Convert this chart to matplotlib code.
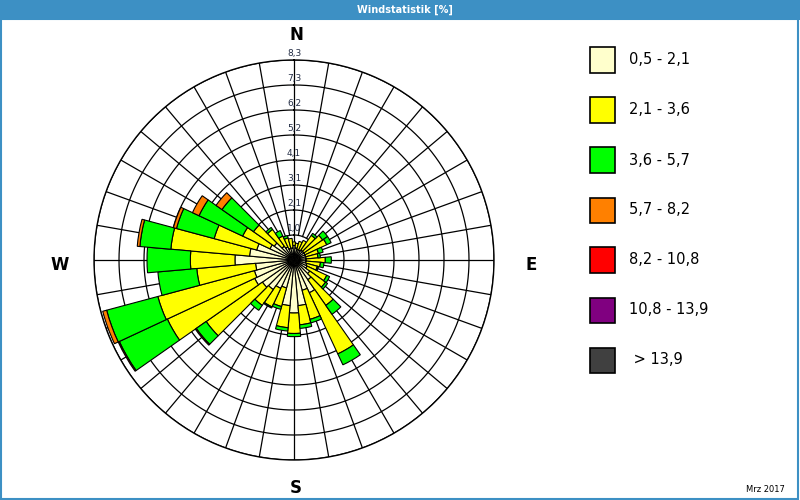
import numpy as np
import matplotlib.pyplot as plt
from matplotlib.patches import Rectangle

# Windrichtung (Grad) und Anteile je Geschwindigkeitsklasse [%]
richtung = np.arange(0, 360, 10)
k_05_21 = [0.6, 0.5, 0.45, 0.45, 0.5, 0.5, 0.5, 0.5, 0.5, 0.5, 0.5, 0.55,
           0.6, 0.8, 1.0, 1.5, 1.3, 1.9, 2.2, 1.9, 1.2, 1.3, 1.5, 1.6,
           1.8, 1.7, 1.6, 2.45, 1.85, 1.6, 1.1, 1.0, 0.7, 0.6, 0.5, 0.5]
k_21_36 = [0.15, 0.2, 0.35, 0.45, 0.75, 0.95, 1.0, 0.55, 0.5, 0.8, 0.6, 0.45,
           0.9, 0.8, 1.3, 2.8, 1.25, 0.8, 0.85, 0.92, 0.8, 0.85, 0.8, 2.85,
           4.0, 4.15, 2.45, 1.85, 3.28, 1.83, 1.25, 1.05, 0.85, 0.5, 0.45, 0.4]
k_36_57 = [0, 0, 0, 0, 0.1, 0.25, 0.2, 0.2, 0.1, 0.25, 0.15, 0.05,
           0.13, 0.1, 0.45, 0.5, 0.15, 0.15, 0.13, 0.14, 0.12, 0.05, 0.25, 0.5,
           2.2, 2.2, 1.62, 1.8, 1.29, 1.62, 2.0, 1.6, 0.1, 0.25, 0.1, 0]
k_57_82 = [0, 0, 0, 0, 0, 0, 0, 0, 0, 0, 0, 0,
           0, 0, 0, 0, 0, 0, 0, 0, 0, 0, 0, 0.05,
           0.05, 0.17, 0, 0, 0.11, 0.13, 0.3, 0.3, 0, 0, 0, 0]
k_82_108 = [0] * 36
k_108_139 = [0] * 36
k_139 = [0] * 36

klassen = ['0,5 - 2,1', '2,1 - 3,6', '3,6 - 5,7', '5,7 - 8,2',
           '8,2 - 10,8', '10,8 - 13,9', ' > 13,9']
farben = ['#ffffcc', '#ffff00', '#00ff00', '#ff8000',
          '#ff0000', '#800080', '#404040']
werte = [k_05_21, k_21_36, k_36_57, k_57_82, k_82_108, k_108_139, k_139]

r_max = 8.3
ring_labels = ['1,0', '2,1', '3,1', '4,1', '5,2', '6,2', '7,3', '8,3']
ringe = [r_max * (i + 1) / 8 for i in range(8)]

fig = plt.figure(figsize=(8, 5), dpi=100)
fig.patch.set_facecolor('white')

# Titelleiste und Rahmen
blau = '#3d90c4'
fig.add_artist(Rectangle((0, 480 / 500), 1, 20 / 500, transform=fig.transFigure,
                         facecolor=blau, edgecolor='none'))
fig.add_artist(Rectangle((0.001, 0.002), 0.997, 0.96, transform=fig.transFigure,
                         facecolor='none', edgecolor=blau, lw=1.5))
fig.text(405 / 800, 490 / 500, 'Windstatistik [%]', color='white', fontsize=7,
         ha='center', va='center', fontweight='bold')

ax = fig.add_axes([94 / 800, 40 / 500, 400 / 800, 400 / 500], projection='polar')
ax.set_theta_zero_location('N')
ax.set_theta_direction(-1)
ax.set_ylim(0, r_max)
ax.grid(False)
ax.set_xticks([])
ax.set_yticks([])
ax.spines['polar'].set_linewidth(1.0)
ax.spines['polar'].set_color('black')

# Gitter
t = np.linspace(0, 2 * np.pi, 361)
for r in ringe:
    ax.plot(t, [r] * len(t), color='black', lw=0.9, zorder=1)
for a in range(0, 360, 10):
    r0 = 0 if a % 90 == 0 else ringe[0]
    ax.plot([np.radians(a)] * 2, [r0, r_max], color='black', lw=0.9, zorder=1)

# gestapelte Balken
breite = np.radians(10)
theta = np.radians(richtung)
unten = np.zeros(36)
for w, c in zip(werte, farben):
    w = np.array(w, dtype=float)
    m = w > 0
    if m.any():
        ax.bar(theta[m], w[m], width=breite, bottom=unten[m], color=c,
               edgecolor='black', linewidth=0.8, zorder=2)
    unten += w

for r, lab in zip(ringe, ring_labels):
    ax.annotate(lab, xy=(0, r), xytext=(0, 1.5), textcoords='offset points',
                ha='center', va='bottom', fontsize=6.5, color='#222c44', zorder=3)

# Himmelsrichtungen
fig.text(296 / 800, 1 - 35 / 500, 'N', fontsize=12, fontweight='bold', ha='center', va='center')
fig.text(296 / 800, 1 - 488 / 500, 'S', fontsize=12, fontweight='bold', ha='center', va='center')
fig.text(60 / 800, 1 - 265 / 500, 'W', fontsize=12, fontweight='bold', ha='center', va='center')
fig.text(531 / 800, 1 - 265 / 500, 'E', fontsize=12, fontweight='bold', ha='center', va='center')

# Legende
for i, (lab, c) in enumerate(zip(klassen, farben)):
    yc = 60 + 50 * i
    fig.add_artist(Rectangle((590 / 800, 1 - (yc + 12.5) / 500), 25 / 800, 25 / 500,
                             transform=fig.transFigure, facecolor=c,
                             edgecolor='black', lw=1.2))
    fig.text(629 / 800, 1 - yc / 500, lab, fontsize=10.5, ha='left', va='center')

fig.text(765 / 800, 1 - 490 / 500, 'Mrz 2017', fontsize=6, ha='center', va='center')

fig.savefig('out.png', dpi=100)
